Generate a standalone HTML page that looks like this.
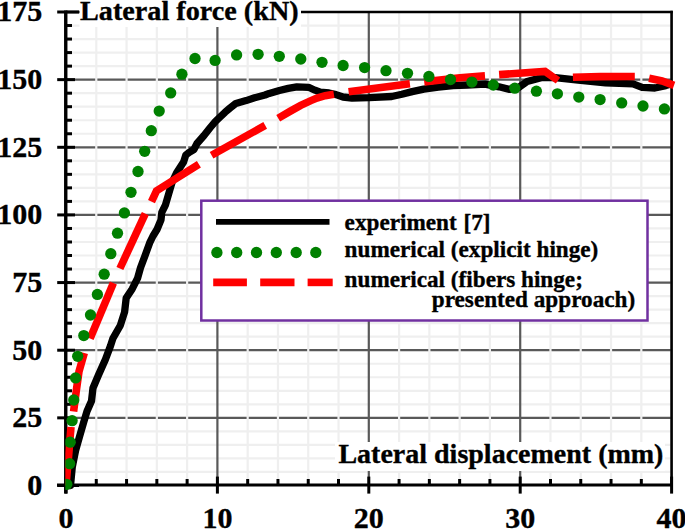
<!DOCTYPE html>
<html><head><meta charset="utf-8"><style>
html,body{margin:0;padding:0;background:#fff;}
body{width:685px;height:529px;overflow:hidden;}
svg{display:block;}
text{font-family:"Liberation Serif",serif;font-weight:bold;fill:#000;stroke:#000;stroke-width:0.35px;}
</style></head><body>
<svg width="685" height="529" viewBox="0 0 685 529">
<rect width="685" height="529" fill="#fff"/>
<line x1="66.0" y1="471.97" x2="671.60" y2="471.97" stroke="#efefef" stroke-width="2.2"/>
<line x1="66.0" y1="458.44" x2="671.60" y2="458.44" stroke="#efefef" stroke-width="2.2"/>
<line x1="66.0" y1="444.91" x2="671.60" y2="444.91" stroke="#efefef" stroke-width="2.2"/>
<line x1="66.0" y1="431.39" x2="671.60" y2="431.39" stroke="#efefef" stroke-width="2.2"/>
<line x1="66.0" y1="404.33" x2="671.60" y2="404.33" stroke="#efefef" stroke-width="2.2"/>
<line x1="66.0" y1="390.80" x2="671.60" y2="390.80" stroke="#efefef" stroke-width="2.2"/>
<line x1="66.0" y1="377.27" x2="671.60" y2="377.27" stroke="#efefef" stroke-width="2.2"/>
<line x1="66.0" y1="363.74" x2="671.60" y2="363.74" stroke="#efefef" stroke-width="2.2"/>
<line x1="66.0" y1="336.69" x2="671.60" y2="336.69" stroke="#efefef" stroke-width="2.2"/>
<line x1="66.0" y1="323.16" x2="671.60" y2="323.16" stroke="#efefef" stroke-width="2.2"/>
<line x1="66.0" y1="309.63" x2="671.60" y2="309.63" stroke="#efefef" stroke-width="2.2"/>
<line x1="66.0" y1="296.10" x2="671.60" y2="296.10" stroke="#efefef" stroke-width="2.2"/>
<line x1="66.0" y1="269.04" x2="671.60" y2="269.04" stroke="#efefef" stroke-width="2.2"/>
<line x1="66.0" y1="255.52" x2="671.60" y2="255.52" stroke="#efefef" stroke-width="2.2"/>
<line x1="66.0" y1="241.99" x2="671.60" y2="241.99" stroke="#efefef" stroke-width="2.2"/>
<line x1="66.0" y1="228.46" x2="671.60" y2="228.46" stroke="#efefef" stroke-width="2.2"/>
<line x1="66.0" y1="201.40" x2="671.60" y2="201.40" stroke="#efefef" stroke-width="2.2"/>
<line x1="66.0" y1="187.87" x2="671.60" y2="187.87" stroke="#efefef" stroke-width="2.2"/>
<line x1="66.0" y1="174.34" x2="671.60" y2="174.34" stroke="#efefef" stroke-width="2.2"/>
<line x1="66.0" y1="160.82" x2="671.60" y2="160.82" stroke="#efefef" stroke-width="2.2"/>
<line x1="66.0" y1="133.76" x2="671.60" y2="133.76" stroke="#efefef" stroke-width="2.2"/>
<line x1="66.0" y1="120.23" x2="671.60" y2="120.23" stroke="#efefef" stroke-width="2.2"/>
<line x1="66.0" y1="106.70" x2="671.60" y2="106.70" stroke="#efefef" stroke-width="2.2"/>
<line x1="66.0" y1="93.17" x2="671.60" y2="93.17" stroke="#efefef" stroke-width="2.2"/>
<line x1="66.0" y1="66.12" x2="671.60" y2="66.12" stroke="#efefef" stroke-width="2.2"/>
<line x1="66.0" y1="52.59" x2="671.60" y2="52.59" stroke="#efefef" stroke-width="2.2"/>
<line x1="66.0" y1="39.06" x2="671.60" y2="39.06" stroke="#efefef" stroke-width="2.2"/>
<line x1="66.0" y1="25.53" x2="671.60" y2="25.53" stroke="#efefef" stroke-width="2.2"/>
<line x1="66.0" y1="417.86" x2="671.60" y2="417.86" stroke="#595959" stroke-width="2.2"/>
<line x1="66.0" y1="350.21" x2="671.60" y2="350.21" stroke="#595959" stroke-width="2.2"/>
<line x1="66.0" y1="282.57" x2="671.60" y2="282.57" stroke="#595959" stroke-width="2.2"/>
<line x1="66.0" y1="214.93" x2="671.60" y2="214.93" stroke="#595959" stroke-width="2.2"/>
<line x1="66.0" y1="147.29" x2="671.60" y2="147.29" stroke="#595959" stroke-width="2.2"/>
<line x1="66.0" y1="79.64" x2="671.60" y2="79.64" stroke="#595959" stroke-width="2.2"/>
<line x1="66.0" y1="12.00" x2="671.60" y2="12.00" stroke="#595959" stroke-width="2.2"/>
<line x1="96.28" y1="12.00" x2="96.28" y2="485.5" stroke="#efefef" stroke-width="2.2"/>
<line x1="126.56" y1="12.00" x2="126.56" y2="485.5" stroke="#efefef" stroke-width="2.2"/>
<line x1="156.84" y1="12.00" x2="156.84" y2="485.5" stroke="#efefef" stroke-width="2.2"/>
<line x1="187.12" y1="12.00" x2="187.12" y2="485.5" stroke="#efefef" stroke-width="2.2"/>
<line x1="247.68" y1="12.00" x2="247.68" y2="485.5" stroke="#efefef" stroke-width="2.2"/>
<line x1="277.96" y1="12.00" x2="277.96" y2="485.5" stroke="#efefef" stroke-width="2.2"/>
<line x1="308.24" y1="12.00" x2="308.24" y2="485.5" stroke="#efefef" stroke-width="2.2"/>
<line x1="338.52" y1="12.00" x2="338.52" y2="485.5" stroke="#efefef" stroke-width="2.2"/>
<line x1="399.08" y1="12.00" x2="399.08" y2="485.5" stroke="#efefef" stroke-width="2.2"/>
<line x1="429.36" y1="12.00" x2="429.36" y2="485.5" stroke="#efefef" stroke-width="2.2"/>
<line x1="459.64" y1="12.00" x2="459.64" y2="485.5" stroke="#efefef" stroke-width="2.2"/>
<line x1="489.92" y1="12.00" x2="489.92" y2="485.5" stroke="#efefef" stroke-width="2.2"/>
<line x1="550.48" y1="12.00" x2="550.48" y2="485.5" stroke="#efefef" stroke-width="2.2"/>
<line x1="580.76" y1="12.00" x2="580.76" y2="485.5" stroke="#efefef" stroke-width="2.2"/>
<line x1="611.04" y1="12.00" x2="611.04" y2="485.5" stroke="#efefef" stroke-width="2.2"/>
<line x1="641.32" y1="12.00" x2="641.32" y2="485.5" stroke="#efefef" stroke-width="2.2"/>
<line x1="217.40" y1="12.00" x2="217.40" y2="485.5" stroke="#595959" stroke-width="2.2"/>
<line x1="368.80" y1="12.00" x2="368.80" y2="485.5" stroke="#595959" stroke-width="2.2"/>
<line x1="520.20" y1="12.00" x2="520.20" y2="485.5" stroke="#595959" stroke-width="2.2"/>
<line x1="671.60" y1="12.00" x2="671.60" y2="485.5" stroke="#595959" stroke-width="2.2"/>
<line x1="66.0" y1="12.00" x2="672.80" y2="12.00" stroke="#000" stroke-width="2.4"/>
<line x1="671.60" y1="10.80" x2="671.60" y2="485.5" stroke="#000" stroke-width="2.4"/>
<line x1="65.75" y1="10.50" x2="65.75" y2="493.5" stroke="#000" stroke-width="3.4"/>
<line x1="57" y1="485" x2="672.90" y2="485" stroke="#000" stroke-width="3"/>
<line x1="57.2" y1="485.50" x2="79.0" y2="485.50" stroke="#000" stroke-width="3"/>
<line x1="65" y1="471.97" x2="72" y2="471.97" stroke="#000" stroke-width="3"/>
<line x1="65" y1="458.44" x2="72" y2="458.44" stroke="#000" stroke-width="3"/>
<line x1="65" y1="444.91" x2="72" y2="444.91" stroke="#000" stroke-width="3"/>
<line x1="65" y1="431.39" x2="72" y2="431.39" stroke="#000" stroke-width="3"/>
<line x1="57.2" y1="417.86" x2="75.0" y2="417.86" stroke="#000" stroke-width="3"/>
<line x1="65" y1="404.33" x2="72" y2="404.33" stroke="#000" stroke-width="3"/>
<line x1="65" y1="390.80" x2="72" y2="390.80" stroke="#000" stroke-width="3"/>
<line x1="65" y1="377.27" x2="72" y2="377.27" stroke="#000" stroke-width="3"/>
<line x1="65" y1="363.74" x2="72" y2="363.74" stroke="#000" stroke-width="3"/>
<line x1="57.2" y1="350.21" x2="75.0" y2="350.21" stroke="#000" stroke-width="3"/>
<line x1="65" y1="336.69" x2="72" y2="336.69" stroke="#000" stroke-width="3"/>
<line x1="65" y1="323.16" x2="72" y2="323.16" stroke="#000" stroke-width="3"/>
<line x1="65" y1="309.63" x2="72" y2="309.63" stroke="#000" stroke-width="3"/>
<line x1="65" y1="296.10" x2="72" y2="296.10" stroke="#000" stroke-width="3"/>
<line x1="57.2" y1="282.57" x2="75.0" y2="282.57" stroke="#000" stroke-width="3"/>
<line x1="65" y1="269.04" x2="72" y2="269.04" stroke="#000" stroke-width="3"/>
<line x1="65" y1="255.52" x2="72" y2="255.52" stroke="#000" stroke-width="3"/>
<line x1="65" y1="241.99" x2="72" y2="241.99" stroke="#000" stroke-width="3"/>
<line x1="65" y1="228.46" x2="72" y2="228.46" stroke="#000" stroke-width="3"/>
<line x1="57.2" y1="214.93" x2="75.0" y2="214.93" stroke="#000" stroke-width="3"/>
<line x1="65" y1="201.40" x2="72" y2="201.40" stroke="#000" stroke-width="3"/>
<line x1="65" y1="187.87" x2="72" y2="187.87" stroke="#000" stroke-width="3"/>
<line x1="65" y1="174.34" x2="72" y2="174.34" stroke="#000" stroke-width="3"/>
<line x1="65" y1="160.82" x2="72" y2="160.82" stroke="#000" stroke-width="3"/>
<line x1="57.2" y1="147.29" x2="75.0" y2="147.29" stroke="#000" stroke-width="3"/>
<line x1="65" y1="133.76" x2="72" y2="133.76" stroke="#000" stroke-width="3"/>
<line x1="65" y1="120.23" x2="72" y2="120.23" stroke="#000" stroke-width="3"/>
<line x1="65" y1="106.70" x2="72" y2="106.70" stroke="#000" stroke-width="3"/>
<line x1="65" y1="93.17" x2="72" y2="93.17" stroke="#000" stroke-width="3"/>
<line x1="57.2" y1="79.64" x2="75.0" y2="79.64" stroke="#000" stroke-width="3"/>
<line x1="65" y1="66.12" x2="72" y2="66.12" stroke="#000" stroke-width="3"/>
<line x1="65" y1="52.59" x2="72" y2="52.59" stroke="#000" stroke-width="3"/>
<line x1="65" y1="39.06" x2="72" y2="39.06" stroke="#000" stroke-width="3"/>
<line x1="65" y1="25.53" x2="72" y2="25.53" stroke="#000" stroke-width="3"/>
<line x1="57.2" y1="12.00" x2="79.0" y2="12.00" stroke="#000" stroke-width="3"/>
<line x1="66.00" y1="476.6" x2="66.00" y2="493.6" stroke="#000" stroke-width="3"/>
<line x1="96.28" y1="479" x2="96.28" y2="485" stroke="#000" stroke-width="3"/>
<line x1="126.56" y1="479" x2="126.56" y2="485" stroke="#000" stroke-width="3"/>
<line x1="156.84" y1="479" x2="156.84" y2="485" stroke="#000" stroke-width="3"/>
<line x1="187.12" y1="479" x2="187.12" y2="485" stroke="#000" stroke-width="3"/>
<line x1="217.40" y1="476.6" x2="217.40" y2="493.6" stroke="#000" stroke-width="3"/>
<line x1="247.68" y1="479" x2="247.68" y2="485" stroke="#000" stroke-width="3"/>
<line x1="277.96" y1="479" x2="277.96" y2="485" stroke="#000" stroke-width="3"/>
<line x1="308.24" y1="479" x2="308.24" y2="485" stroke="#000" stroke-width="3"/>
<line x1="338.52" y1="479" x2="338.52" y2="485" stroke="#000" stroke-width="3"/>
<line x1="368.80" y1="476.6" x2="368.80" y2="493.6" stroke="#000" stroke-width="3"/>
<line x1="399.08" y1="479" x2="399.08" y2="485" stroke="#000" stroke-width="3"/>
<line x1="429.36" y1="479" x2="429.36" y2="485" stroke="#000" stroke-width="3"/>
<line x1="459.64" y1="479" x2="459.64" y2="485" stroke="#000" stroke-width="3"/>
<line x1="489.92" y1="479" x2="489.92" y2="485" stroke="#000" stroke-width="3"/>
<line x1="520.20" y1="476.6" x2="520.20" y2="493.6" stroke="#000" stroke-width="3"/>
<line x1="550.48" y1="479" x2="550.48" y2="485" stroke="#000" stroke-width="3"/>
<line x1="580.76" y1="479" x2="580.76" y2="485" stroke="#000" stroke-width="3"/>
<line x1="611.04" y1="479" x2="611.04" y2="485" stroke="#000" stroke-width="3"/>
<line x1="641.32" y1="479" x2="641.32" y2="485" stroke="#000" stroke-width="3"/>
<line x1="671.60" y1="476.6" x2="671.60" y2="493.6" stroke="#000" stroke-width="3"/>
<defs><clipPath id="pc"><rect x="65.3" y="0" width="620" height="529"/></clipPath></defs>
<g clip-path="url(#pc)">
<polyline points="66.0,485.5 70.5,485.5 72.3,467.0 75.6,450.6 79.7,436.1 83.9,421.5 87.0,411.2 91.5,401.0 93.0,388.0 98.6,374.8 105.4,359.5 110.5,345.9 113.0,338.2 120.3,325.5 124.6,312.0 126.2,298.0 132.2,288.9 137.5,278.4 140.5,267.8 145.0,255.7 150.0,242.1 153.0,236.0 157.0,229.5 161.0,219.9 161.8,212.3 165.5,204.8 169.0,192.7 172.1,182.2 176.5,173.0 183.6,162.0 185.8,155.0 189.2,152.3 193.9,149.5 197.0,143.5 204.0,135.5 210.3,127.5 215.5,121.3 220.5,116.6 225.0,112.3 229.6,108.4 235.9,103.4 246.1,100.6 254.6,97.8 265.0,95.0 269.2,93.4 279.4,90.5 288.2,88.4 296.9,86.8 308.6,87.3 315.0,90.2 320.3,92.2 329.0,93.0 336.0,94.6 343.0,97.0 352.0,98.0 369.0,97.6 391.7,96.5 401.9,94.3 412.1,91.6 423.8,89.1 438.4,87.2 453.0,85.5 467.6,85.0 485.0,84.2 499.0,86.8 509.6,89.4 518.3,87.7 527.1,81.5 541.1,77.7 555.1,77.7 578.2,80.1 605.6,82.8 633.0,83.8 642.1,87.4 654.9,88.0 665.8,85.6 671.7,83.8" fill="none" stroke="#000" stroke-width="7.3" stroke-linejoin="round"/>
<polyline points="66.0,485.5 68.6,456.0 71.0,427.0" fill="none" stroke="#ff0000" stroke-width="7.6" stroke-linejoin="miter"/>
<polyline points="73.6,411.5 76.4,390.0 79.0,371.5 84.3,353.0" fill="none" stroke="#ff0000" stroke-width="7.6" stroke-linejoin="miter"/>
<polyline points="90.1,338.5 113.4,283.0" fill="none" stroke="#ff0000" stroke-width="7.6" stroke-linejoin="miter"/>
<polyline points="119.9,268.5 145.3,213.6" fill="none" stroke="#ff0000" stroke-width="7.6" stroke-linejoin="miter"/>
<polyline points="151.5,201.6 156.5,190.8 198.9,164.3" fill="none" stroke="#ff0000" stroke-width="7.6" stroke-linejoin="miter"/>
<polyline points="211.6,155.2 265.2,125.4" fill="none" stroke="#ff0000" stroke-width="7.6" stroke-linejoin="miter"/>
<polyline points="278.2,118.2 290.4,111.1 300.7,105.4 310.9,100.6 317.0,98.0 325.2,95.7 333.9,94.2" fill="none" stroke="#ff0000" stroke-width="7.6" stroke-linejoin="miter"/>
<polyline points="348.6,91.8 409.9,83.8" fill="none" stroke="#ff0000" stroke-width="7.6" stroke-linejoin="miter"/>
<polyline points="424.2,81.9 460.0,77.8 485.0,75.9" fill="none" stroke="#ff0000" stroke-width="7.6" stroke-linejoin="miter"/>
<polyline points="499.1,74.6 545.0,71.4 558.0,80.5" fill="none" stroke="#ff0000" stroke-width="7.6" stroke-linejoin="miter"/>
<polyline points="572.9,77.3 600.0,76.6 634.8,76.5" fill="none" stroke="#ff0000" stroke-width="7.6" stroke-linejoin="miter"/>
<polyline points="649.1,78.2 662.0,81.0 674.0,85.3" fill="none" stroke="#ff0000" stroke-width="7.6" stroke-linejoin="miter"/>
<circle cx="66.8" cy="484.3" r="5.65" fill="#008000"/>
<circle cx="69.6" cy="463.7" r="5.65" fill="#008000"/>
<circle cx="70.2" cy="442.2" r="5.65" fill="#008000"/>
<circle cx="72.1" cy="420.7" r="5.65" fill="#008000"/>
<circle cx="73.8" cy="400" r="5.65" fill="#008000"/>
<circle cx="75.6" cy="377.9" r="5.65" fill="#008000"/>
<circle cx="77.7" cy="356.3" r="5.65" fill="#008000"/>
<circle cx="83.8" cy="335.6" r="5.65" fill="#008000"/>
<circle cx="90.5" cy="315" r="5.65" fill="#008000"/>
<circle cx="97.4" cy="294.4" r="5.65" fill="#008000"/>
<circle cx="104.2" cy="274.2" r="5.65" fill="#008000"/>
<circle cx="110.8" cy="253.7" r="5.65" fill="#008000"/>
<circle cx="117.5" cy="233.2" r="5.65" fill="#008000"/>
<circle cx="124.4" cy="212.9" r="5.65" fill="#008000"/>
<circle cx="131.0" cy="192.3" r="5.65" fill="#008000"/>
<circle cx="138.0" cy="171.5" r="5.65" fill="#008000"/>
<circle cx="144.7" cy="151.3" r="5.65" fill="#008000"/>
<circle cx="151.3" cy="130.7" r="5.65" fill="#008000"/>
<circle cx="159.2" cy="111.1" r="5.65" fill="#008000"/>
<circle cx="170.7" cy="92.9" r="5.65" fill="#008000"/>
<circle cx="181.9" cy="74.2" r="5.65" fill="#008000"/>
<circle cx="195.0" cy="58.5" r="5.65" fill="#008000"/>
<circle cx="215.1" cy="60.4" r="5.65" fill="#008000"/>
<circle cx="236.6" cy="54.9" r="5.65" fill="#008000"/>
<circle cx="258.1" cy="54.3" r="5.65" fill="#008000"/>
<circle cx="279.3" cy="56.3" r="5.65" fill="#008000"/>
<circle cx="300.8" cy="59" r="5.65" fill="#008000"/>
<circle cx="322" cy="62.3" r="5.65" fill="#008000"/>
<circle cx="343.1" cy="65.5" r="5.65" fill="#008000"/>
<circle cx="364.6" cy="67.6" r="5.65" fill="#008000"/>
<circle cx="386" cy="70.7" r="5.65" fill="#008000"/>
<circle cx="407.5" cy="73.3" r="5.65" fill="#008000"/>
<circle cx="428.9" cy="76.4" r="5.65" fill="#008000"/>
<circle cx="450.5" cy="79.5" r="5.65" fill="#008000"/>
<circle cx="471.9" cy="82.1" r="5.65" fill="#008000"/>
<circle cx="493.3" cy="85" r="5.65" fill="#008000"/>
<circle cx="514.8" cy="88.2" r="5.65" fill="#008000"/>
<circle cx="536.4" cy="91.2" r="5.65" fill="#008000"/>
<circle cx="557.4" cy="93.8" r="5.65" fill="#008000"/>
<circle cx="578.8" cy="97.1" r="5.65" fill="#008000"/>
<circle cx="600.1" cy="99.6" r="5.65" fill="#008000"/>
<circle cx="621.7" cy="102.9" r="5.65" fill="#008000"/>
<circle cx="643" cy="106" r="5.65" fill="#008000"/>
<circle cx="664.4" cy="108.9" r="5.65" fill="#008000"/>
</g>
<rect x="201.3" y="200.7" width="446.2" height="119.8" fill="#fff" stroke="#7030a0" stroke-width="2.5"/>
<line x1="216" y1="221.9" x2="329.5" y2="221.9" stroke="#000" stroke-width="5.6"/>
<circle cx="216.9" cy="252.5" r="5.65" fill="#008000"/>
<circle cx="236.7" cy="252.5" r="5.65" fill="#008000"/>
<circle cx="256.5" cy="252.5" r="5.65" fill="#008000"/>
<circle cx="276.3" cy="252.5" r="5.65" fill="#008000"/>
<circle cx="296.2" cy="252.5" r="5.65" fill="#008000"/>
<circle cx="315.8" cy="252.5" r="5.65" fill="#008000"/>
<line x1="213.2" y1="282.4" x2="246.9" y2="282.4" stroke="#ff0000" stroke-width="7.6"/>
<line x1="260.2" y1="282.4" x2="294.5" y2="282.4" stroke="#ff0000" stroke-width="7.6"/>
<line x1="307.6" y1="282.4" x2="332.7" y2="282.4" stroke="#ff0000" stroke-width="7.6"/>
<text x="344.6" y="229.8" font-size="23.2">experiment</text>
<text x="463.5" y="229.8" font-size="23.2">[7]</text>
<text x="344.6" y="257.3" font-size="23.2">numerical (explicit hinge)</text>
<text x="344.6" y="287.2" font-size="23.2">numerical (fibers hinge;</text>
<text x="431.8" y="306.5" font-size="23.2">presented approach)</text>
<rect x="79.5" y="0" width="221.5" height="27" fill="#fff"/>
<text x="80" y="19.7" font-size="28.2">Lateral force (kN)</text>
<rect x="335" y="442" width="330" height="29" fill="#fff"/>
<text x="338.4" y="462.6" font-size="28">Lateral displacement (mm)</text>
<text x="42.2" y="494.90" font-size="30" text-anchor="end">0</text>
<text x="42.2" y="427.26" font-size="30" text-anchor="end">25</text>
<text x="42.2" y="359.61" font-size="30" text-anchor="end">50</text>
<text x="42.2" y="291.97" font-size="30" text-anchor="end">75</text>
<text x="42.2" y="224.33" font-size="30" text-anchor="end">100</text>
<text x="42.2" y="156.69" font-size="30" text-anchor="end">125</text>
<text x="42.2" y="89.04" font-size="30" text-anchor="end">150</text>
<text x="42.2" y="21.40" font-size="30" text-anchor="end">175</text>
<text x="66.00" y="528.3" font-size="30" text-anchor="middle">0</text>
<text x="217.40" y="528.3" font-size="30" text-anchor="middle">10</text>
<text x="368.80" y="528.3" font-size="30" text-anchor="middle">20</text>
<text x="520.20" y="528.3" font-size="30" text-anchor="middle">30</text>
<text x="671.60" y="528.3" font-size="30" text-anchor="middle">40</text>
</svg>
</body></html>
